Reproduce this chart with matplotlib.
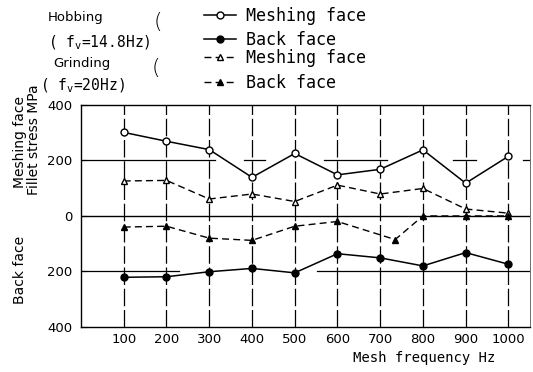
import matplotlib
matplotlib.use("Agg")
import matplotlib.pyplot as plt

freq = [100, 200, 300, 400, 500, 600, 700, 800, 900, 1000]
hob_mesh = [301, 269, 239, 139, 225, 148, 168, 238, 118, 215]
hob_back = [-221, -219, -201, -189, -205, -136, -151, -180, -132, -174]
grind_mesh = [126, 128, 61, 79, 52, 111, 79, 99, 25, 10]
grind_back_freq = [100, 200, 300, 400, 500, 600, 735, 800, 900, 1000]
grind_back = [-40, -37, -80, -88, -37, -20, -85, 0, 0, 0]

yticks = [400, 200, 0, -200, -400]
ylabels = ["400", "200", "0", "200", "400"]

mono = "DejaVu Sans Mono"
plt.rcParams["font.family"] = "DejaVu Sans"

fig = plt.figure(figsize=(5.33, 3.72), dpi=100)
ax = fig.add_axes([0.152, 0.121, 0.842, 0.597])

# broken grid lines like the scan
for f in freq:
    ax.axvline(f, color="black", lw=0.9, dashes=(14, 3), zorder=1)
seg200 = [(0, 313), (381, 430), (568, 715), (871, 925), (1035, 1050)]
segm200 = [(0, 229), (551, 1050)]
for a, b in seg200:
    ax.plot([a, b], [200, 200], color="black", lw=0.9, zorder=1)
for a, b in segm200:
    ax.plot([a, b], [-200, -200], color="black", lw=0.9, zorder=1)
ax.axhline(0, color="black", lw=1.0, zorder=1)

l1, = ax.plot(freq, hob_mesh, "-", color="black", lw=1.1, marker="o", ms=5,
              mfc="white", mec="black", mew=1.0, zorder=3)
l2, = ax.plot(freq, hob_back, "-", color="black", lw=1.1, marker="o", ms=5,
              mfc="black", mec="black", zorder=3)
l3, = ax.plot(freq, grind_mesh, "--", color="black", lw=1.0, marker="^", ms=5,
              mfc="white", mec="black", mew=1.0, dashes=(5, 3), zorder=3)
l4, = ax.plot(grind_back_freq, grind_back, "--", color="black", lw=1.0, marker="^", ms=5,
              mfc="black", mec="black", dashes=(5, 3), zorder=3)

ax.set_xlim(0, 1050)
ax.set_ylim(-400, 400)
ax.set_xticks(freq)
ax.set_xticklabels([str(f) for f in freq], fontsize=9.5)
ax.set_yticks(yticks)
ax.set_yticklabels(ylabels, fontsize=9.5)
ax.tick_params(axis="x", length=0, pad=4)
ax.tick_params(axis="y", direction="in", length=4, pad=6)
for s in ax.spines.values():
    s.set_linewidth(1.0)
ax.spines["right"].set_linewidth(0.4)

fig.text(495 / 533, 1 - 358 / 372, "Mesh frequency Hz", family=mono, fontsize=10,
         ha="right", va="center")

# y axis labels
fig.text(20 / 533, 1 - 142 / 372, "Meshing face", rotation=90, fontsize=10,
         ha="center", va="center")
fig.text(34 / 533, 1 - 140 / 372, "Fillet stress MPa", rotation=90, fontsize=10,
         ha="center", va="center")
fig.text(20 / 533, 1 - 270 / 372, "Back face", rotation=90, fontsize=10,
         ha="center", va="center")

# method labels
fig.text(76 / 533, 1 - 18 / 372, "Hobbing", fontsize=9.5, ha="center", va="center")
fig.text(99 / 533, 1 - 43 / 372, r"( f$_\mathregular{v}$=14.8Hz)", family=mono,
         fontsize=10.5, ha="center", va="center")
fig.text(82 / 533, 1 - 63 / 372, "Grinding", fontsize=9.5, ha="center", va="center")
fig.text(82 / 533, 1 - 86 / 372, r"( f$_\mathregular{v}$=20Hz)", family=mono,
         fontsize=10.5, ha="center", va="center")
fig.text(158 / 533, 1 - 22 / 372, "(", fontsize=16, ha="center", va="center",
         fontweight="light")
fig.text(156 / 533, 1 - 68 / 372, "(", fontsize=16, ha="center", va="center",
         fontweight="light")

# legend rows
rows = [(l1, "Meshing face", 16), (l2, "Back face", 40),
        (l3, "Meshing face", 58), (l4, "Back face", 83)]
for h, lab, yy in rows:
    fig.legend([h], [lab], loc="center left",
               bbox_to_anchor=(204 / 533, 1 - yy / 372), frameon=False,
               handlelength=1.9, handletextpad=0.6, borderpad=0, borderaxespad=0,
               prop={"family": mono, "size": 12})

fig.savefig("out.png", dpi=100)
